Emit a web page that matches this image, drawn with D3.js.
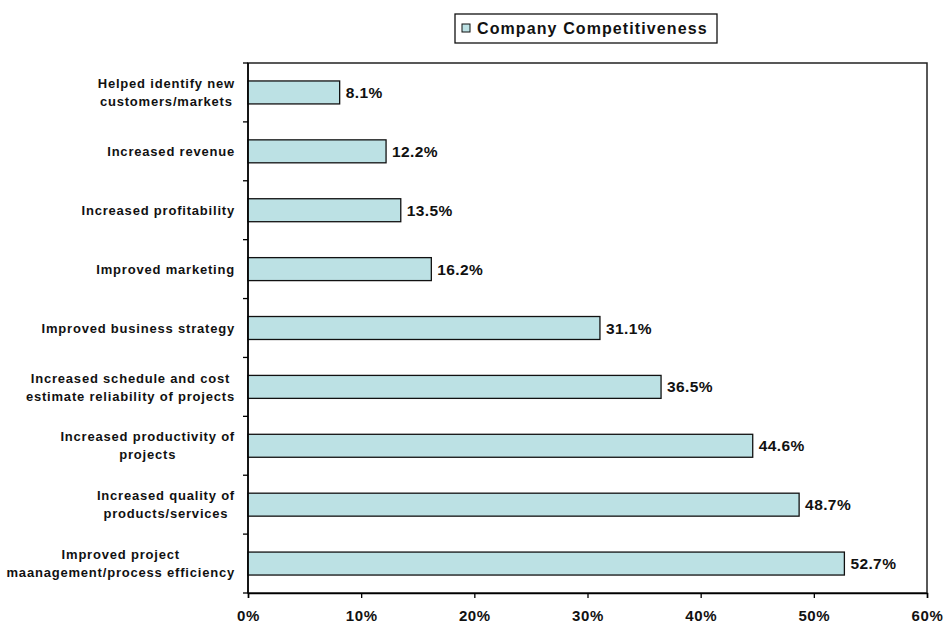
<!DOCTYPE html>
<html><head><meta charset="utf-8">
<script src="https://cdn.jsdelivr.net/npm/d3@7"></script>
<style>body{margin:0;background:#fff}svg{display:block}text{font-family:"Liberation Sans",Arial,sans-serif;font-weight:bold;fill:#111}</style>
</head><body><svg id="c" width="945" height="624"></svg>
<script>
const categories = [
  "Helped identify new\ncustomers/markets",
  "Increased revenue",
  "Increased profitability",
  "Improved marketing",
  "Improved business strategy",
  "Increased schedule and cost\nestimate reliability of projects",
  "Increased productivity of\nprojects",
  "Increased quality of\nproducts/services",
  "Improved project\nmaanagement/process efficiency"
];
const values = [8.1, 12.2, 13.5, 16.2, 31.1, 36.5, 44.6, 48.7, 52.7];
const xTicks = [0, 10, 20, 30, 40, 50, 60];
const seriesName = "Company Competitiveness";

const svg = d3.select("#c");
const L = 248, R = 927, T = 63, B = 593;
const x = d3.scaleLinear().domain([0, 60]).range([L, R]);
const y = d3.scaleBand().domain(categories).range([T, B]).paddingInner(0.61).paddingOuter(0.305);

// frame
svg.append("rect").attr("x", L).attr("y", T).attr("width", R - L).attr("height", B - T)
  .attr("fill", "none").attr("stroke", "#222").attr("stroke-width", 1.5);

// bars
svg.selectAll("rect.bar").data(values).enter().append("rect").attr("class", "bar")
  .attr("x", x(0)).attr("y", (d, i) => y(categories[i]))
  .attr("width", d => x(d) - x(0)).attr("height", y.bandwidth())
  .attr("fill", "#BCE1E4").attr("stroke", "#111").attr("stroke-width", 1.3);

// value labels
svg.selectAll("text.val").data(values).enter().append("text").attr("class", "val")
  .attr("x", d => x(d) + 6).attr("y", (d, i) => y(categories[i]) + y.bandwidth() / 2)
  .attr("dy", "0.36em").style("font-size", "15.5px").style("letter-spacing", "0.4px").text(d => d.toFixed(1) + "%");

// x axis
const xAxis = d3.axisBottom(x).tickValues(xTicks).tickFormat(d => d + "%").tickSize(5).tickPadding(12);
const gx = svg.append("g").attr("transform", `translate(0,${B})`).call(xAxis);
gx.select(".domain").attr("stroke", "#000").attr("stroke-width", 1.5);
gx.selectAll(".tick line").attr("stroke", "#000").attr("stroke-width", 1.3);
gx.selectAll(".tick text").style("font-size", "15px").style("letter-spacing", "0.6px").attr("fill", "#111")
  .style("font-family", '"Liberation Sans",Arial,sans-serif').style("font-weight", "bold");

// y axis: ticks at band boundaries
const bounds = d3.range(categories.length + 1).map(i => T + i * (B - T) / categories.length);
svg.append("line").attr("x1", L).attr("x2", L).attr("y1", T).attr("y2", B).attr("stroke", "#000").attr("stroke-width", 1.5);
svg.selectAll("line.yt").data(bounds).enter().append("line").attr("class", "yt")
  .attr("x1", L - 5).attr("x2", L).attr("y1", d => d).attr("y2", d => d)
  .attr("stroke", "#000").attr("stroke-width", 1.3);

// category labels (centered multi-line, right edge at ~235)
const lh = 18;
categories.forEach(c => {
  const lines = c.split("\n");
  const g = svg.append("g");
  const cy = y(c) + y.bandwidth() / 2;
  const ts = lines.map((ln, j) => g.append("text").style("font-size", "13px").style("letter-spacing", "0.8px")
    .attr("text-anchor", "middle").attr("y", cy + (j - (lines.length - 1) / 2) * lh).attr("dy", "0.36em").text(ln));
  const maxW = d3.max(ts, t => t.node().getComputedTextLength());
  ts.forEach(t => t.attr("x", 235 - maxW / 2));
});

// legend
const lg = svg.append("g");
lg.append("rect").attr("x", 455).attr("y", 14).attr("width", 262).attr("height", 29)
  .attr("fill", "#fff").attr("stroke", "#111").attr("stroke-width", 1.3);
lg.append("rect").attr("x", 462).attr("y", 24).attr("width", 8).attr("height", 8)
  .attr("fill", "#BCE1E4").attr("stroke", "#111").attr("stroke-width", 1);
lg.append("text").attr("x", 477).attr("y", 28.5).attr("dy", "0.36em").style("font-size", "16px").style("letter-spacing", "1.1px").text(seriesName);
</script></body></html>
